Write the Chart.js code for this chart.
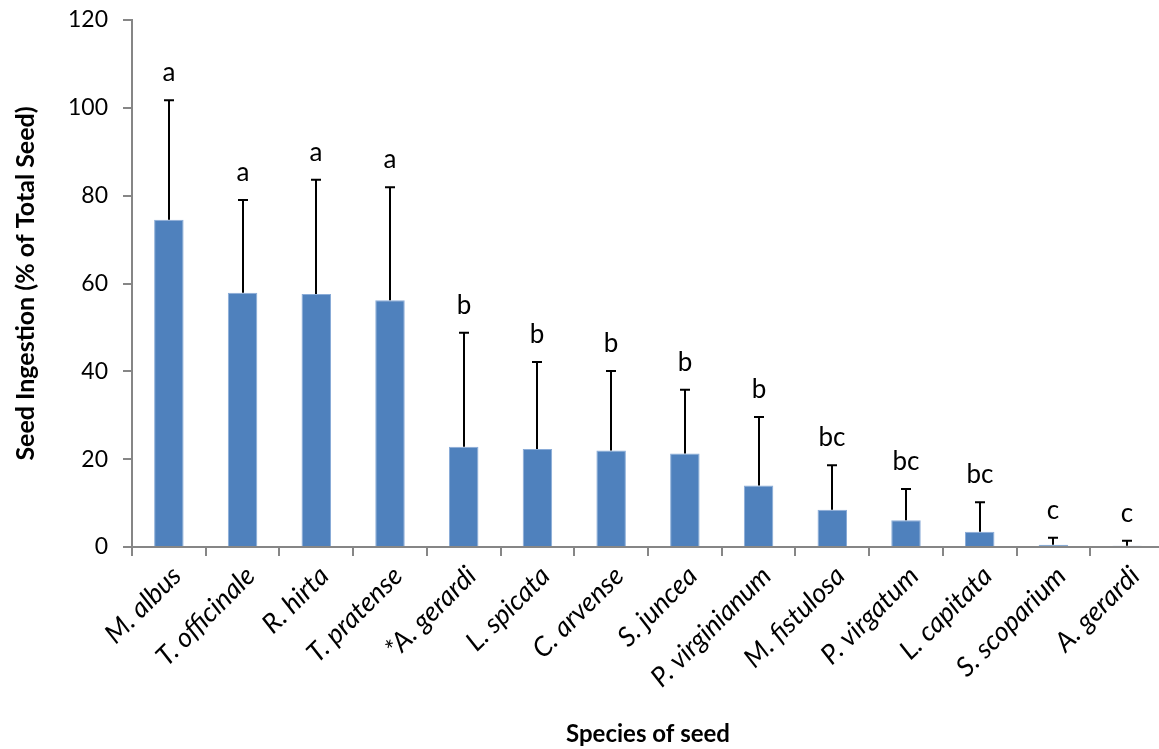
<!DOCTYPE html>
<html>
<head>
<meta charset="utf-8">
<script src="https://cdn.jsdelivr.net/npm/chart.js@4"></script>
<style>
  html, body { margin: 0; padding: 0; background: #fff; overflow: hidden; }
  #wrap { width: 1164px; height: 749px; }
</style>
</head>
<body>
<div id="wrap"><canvas id="chart" width="1164" height="749"></canvas></div>
<script>
// Seed species offered
const species = ['M. albus', 'T. officinale', 'R. hirta', 'T. pratense', '*A. gerardi', 'L. spicata',
  'C. arvense', 'S. juncea', 'P. virginianum', 'M. fistulosa', 'P. virgatum', 'L. capitata',
  'S. scoparium', 'A. gerardi'];
// Mean seed ingestion (% of total seed)
const ingestion = [74.5, 57.9, 57.6, 56.2, 22.8, 22.3, 22.0, 21.3, 14.0, 8.5, 6.1, 3.5, 0.5, 0.3];
// Upper error (standard error of the mean)
const stdError = [27.2, 21.1, 26.0, 25.7, 26.0, 19.8, 18.1, 14.5, 15.6, 10.1, 7.1, 6.7, 1.6, 1.1];
// Significance groupings
const groups = ['a', 'a', 'a', 'a', 'b', 'b', 'b', 'b', 'b', 'bc', 'bc', 'bc', 'c', 'c'];

const AXIS_GREY = '#868686';

// Upward error bars with caps, plus group letters above them
const errorBarPlugin = {
  id: 'errorBars',
  afterDatasetsDraw(chart) {
    const ctx = chart.ctx;
    const y = chart.scales.y;
    const meta = chart.getDatasetMeta(0);
    ctx.save();
    ctx.strokeStyle = '#000';
    ctx.lineWidth = 2;
    meta.data.forEach((bar, i) => {
      const yTop = y.getPixelForValue(ingestion[i] + stdError[i]);
      const yBase = y.getPixelForValue(ingestion[i]);
      const x = Math.round(bar.x);
      ctx.beginPath();
      ctx.moveTo(x, yBase);
      ctx.lineTo(x, yTop);
      ctx.moveTo(x - 5, yTop);
      ctx.lineTo(x + 5, yTop);
      ctx.stroke();
      ctx.fillStyle = '#000';
      ctx.font = '26px Lato';
      ctx.textAlign = 'center';
      ctx.textBaseline = 'alphabetic';
      ctx.fillText(groups[i], x, yTop - 19);
    });
    ctx.restore();
  }
};

new Chart(document.getElementById('chart'), {
  type: 'bar',
  data: {
    labels: species,
    datasets: [{
      data: ingestion,
      backgroundColor: '#4F81BD',
      borderColor: '#8AACD8',
      borderWidth: 1,
      barPercentage: 0.4,
      categoryPercentage: 1.0
    }]
  },
  options: {
    responsive: false,
    devicePixelRatio: 1,
    animation: false,
    layout: { padding: { top: 20, right: 0, bottom: 0, left: 0 } },
    plugins: { legend: { display: false }, tooltip: { enabled: false } },
    scales: {
      x: {
        grid: { display: true, drawOnChartArea: false, drawTicks: true, tickLength: 9, offset: true,
                color: AXIS_GREY, lineWidth: 2 },
        border: { display: true, color: AXIS_GREY, width: 2 },
        ticks: {
          color: '#000',
          font: { family: 'Lato', size: 27, style: 'italic' },
          minRotation: 45, maxRotation: 45, autoSkip: false, padding: 4, labelOffset: 8
        },
        title: {
          display: true, text: 'Species of seed', color: '#000',
          font: { family: 'Lato', size: 24, weight: 'bold' },
          padding: { top: 0, bottom: 0 }
        },
        afterFit(scale) { scale.height = 202; }
      },
      y: {
        min: 0, max: 120,
        grid: { display: true, drawOnChartArea: false, drawTicks: true, tickLength: 9,
                color: AXIS_GREY, lineWidth: 2 },
        border: { display: true, color: AXIS_GREY, width: 2 },
        ticks: {
          stepSize: 20, color: '#000', padding: 15,
          font: { family: 'Lato', size: 23 }
        },
        title: {
          display: true, text: 'Seed Ingestion (% of Total Seed)', color: '#000',
          font: { family: 'Lato', size: 25, weight: 'bold' },
          padding: { top: 11, bottom: 0 }
        },
        afterFit(scale) {
          scale.width = 132;
          // the plot area edges are set by the layout padding and the x axis height
          scale.paddingTop = 0;
          scale.paddingBottom = 0;
        }
      }
    }
  },
  plugins: [errorBarPlugin]
});
</script>
</body>
</html>
